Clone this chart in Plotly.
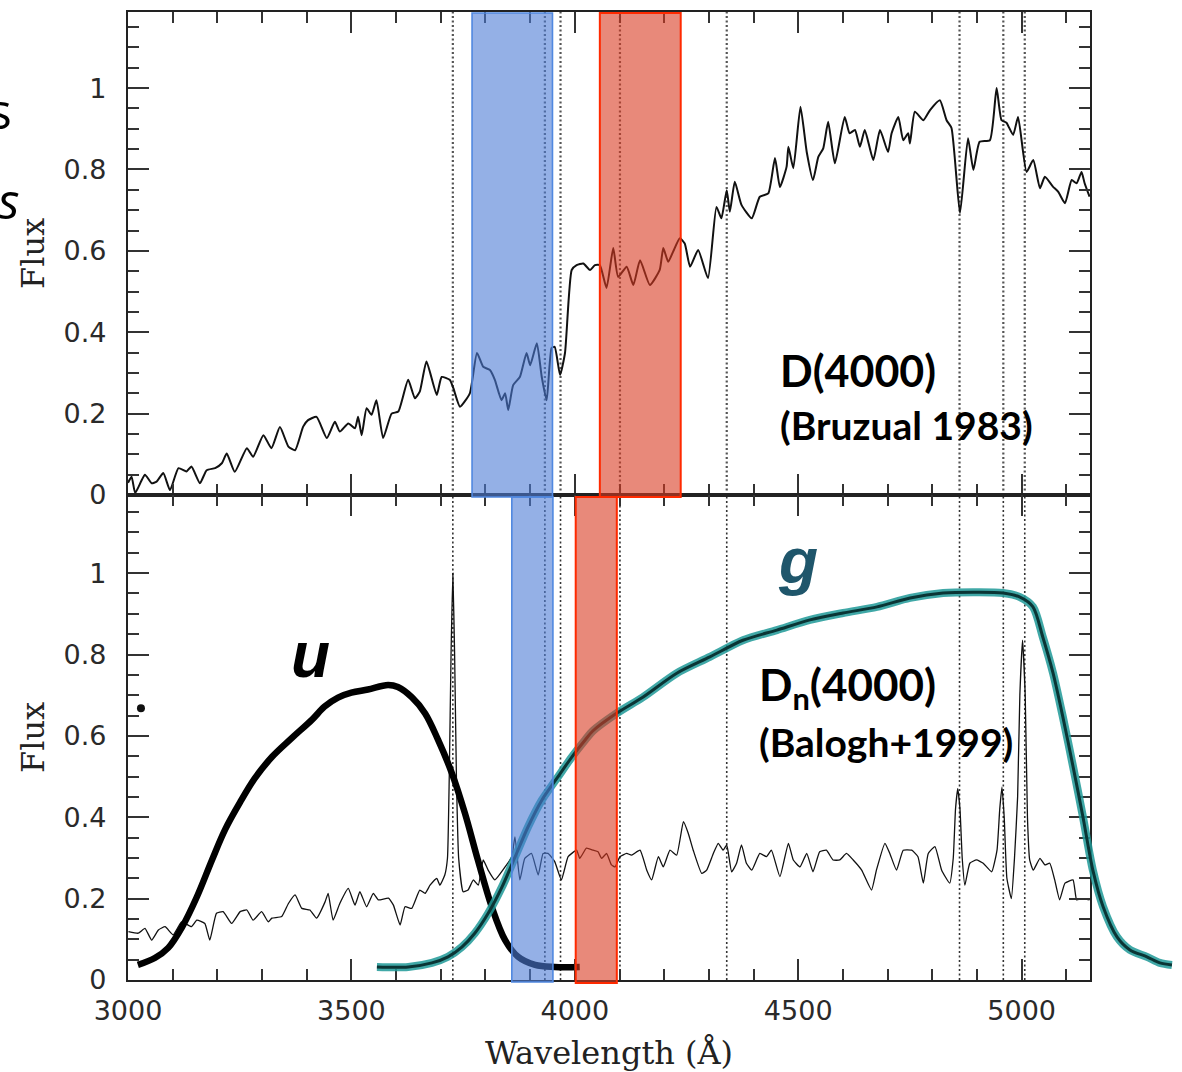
import plotly.graph_objects as go

# ------------------------------------------------------------------ data
# upper panel: evolved (old) galaxy spectrum  (wavelength [A], flux)
top_spectrum = [
    (3000, 0.03), (3008, 0.045), (3016, 0.005), (3030, 0.035), (3038, 0.05), (3053, 0.029),
    (3064, 0.033), (3079, 0.054), (3094, 0.012), (3113, 0.066), (3131, 0.058), (3142, 0.07),
    (3161, 0.029), (3176, 0.061), (3195, 0.066), (3210, 0.078), (3221, 0.102), (3239, 0.057),
    (3266, 0.115), (3280, 0.094), (3303, 0.147), (3321, 0.115), (3340, 0.167), (3359, 0.119),
    (3374, 0.11), (3392, 0.168), (3403, 0.184), (3422, 0.192), (3445, 0.14), (3463, 0.18),
    (3474, 0.156), (3493, 0.176), (3508, 0.164), (3515, 0.192), (3523, 0.147), (3534, 0.213),
    (3545, 0.197), (3556, 0.233), (3571, 0.14), (3590, 0.2), (3605, 0.205), (3627, 0.283),
    (3642, 0.238), (3653, 0.254), (3668, 0.328), (3691, 0.246), (3702, 0.29), (3720, 0.283),
    (3728, 0.263), (3743, 0.217), (3765, 0.25), (3781, 0.349), (3795, 0.315), (3810, 0.307),
    (3821, 0.283), (3836, 0.233), (3844, 0.25), (3851, 0.209), (3862, 0.27), (3877, 0.29),
    (3892, 0.349), (3900, 0.319), (3915, 0.373), (3926, 0.29), (3937, 0.233), (3948, 0.361),
    (3955, 0.364), (3967, 0.295), (3978, 0.349), (3993, 0.553), (4004, 0.565), (4019, 0.569),
    (4034, 0.553), (4045, 0.565), (4056, 0.565), (4071, 0.509), (4086, 0.607), (4097, 0.536),
    (4116, 0.561), (4131, 0.516), (4146, 0.577), (4168, 0.516), (4190, 0.553), (4198, 0.607),
    (4209, 0.573), (4220, 0.598), (4235, 0.631), (4246, 0.618), (4258, 0.561), (4276, 0.602),
    (4298, 0.533), (4317, 0.708), (4328, 0.68), (4340, 0.749), (4347, 0.696), (4358, 0.77),
    (4373, 0.713), (4396, 0.68), (4414, 0.733), (4433, 0.741), (4448, 0.828), (4459, 0.757),
    (4474, 0.807), (4478, 0.856), (4489, 0.803), (4505, 0.954), (4519, 0.843), (4533, 0.774),
    (4545, 0.831), (4556, 0.852), (4567, 0.917), (4582, 0.815), (4604, 0.929), (4615, 0.889),
    (4627, 0.897), (4638, 0.856), (4649, 0.897), (4668, 0.823), (4683, 0.897), (4701, 0.843),
    (4709, 0.889), (4724, 0.929), (4735, 0.872), (4746, 0.889), (4750, 0.864), (4761, 0.942),
    (4780, 0.921), (4795, 0.946), (4817, 0.97), (4832, 0.921), (4843, 0.902), (4862, 0.693),
    (4880, 0.877), (4892, 0.799), (4906, 0.868), (4929, 0.872), (4944, 1.0), (4955, 0.921),
    (4966, 0.915), (4981, 0.885), (4992, 0.929), (5011, 0.794), (5026, 0.823), (5041, 0.754),
    (5052, 0.782), (5070, 0.758), (5082, 0.745), (5097, 0.717), (5112, 0.774), (5123, 0.766),
    (5134, 0.794), (5141, 0.766), (5152, 0.733),
]

# lower panel: star-forming galaxy spectrum with emission lines
bottom_spectrum = [
    (3001, 0.119), (3023, 0.115), (3038, 0.127), (3053, 0.098), (3068, 0.123), (3083, 0.131),
    (3101, 0.111), (3120, 0.143), (3142, 0.131), (3154, 0.147), (3172, 0.139), (3183, 0.098),
    (3198, 0.164), (3213, 0.168), (3232, 0.139), (3251, 0.168), (3266, 0.172), (3280, 0.147),
    (3299, 0.168), (3314, 0.143), (3322, 0.152), (3344, 0.156), (3359, 0.188), (3374, 0.209),
    (3389, 0.176), (3407, 0.172), (3422, 0.152), (3441, 0.192), (3448, 0.213), (3459, 0.147),
    (3474, 0.188), (3493, 0.225), (3508, 0.184), (3519, 0.217), (3534, 0.18), (3549, 0.213),
    (3560, 0.197), (3583, 0.201), (3594, 0.184), (3609, 0.135), (3620, 0.18), (3635, 0.176),
    (3653, 0.221), (3665, 0.213), (3676, 0.233), (3691, 0.25), (3698, 0.233), (3709, 0.258),
    (3715, 0.3), (3719, 0.5), (3723, 0.8), (3727, 1.0), (3731, 0.8), (3735, 0.5), (3740, 0.3),
    (3750, 0.217), (3761, 0.221), (3773, 0.246), (3784, 0.233), (3795, 0.295), (3806, 0.27),
    (3821, 0.246), (3844, 0.278), (3859, 0.303), (3866, 0.352), (3877, 0.246), (3888, 0.299),
    (3903, 0.311), (3918, 0.258), (3929, 0.311), (3940, 0.311), (3955, 0.291), (3970, 0.246),
    (3985, 0.303), (4004, 0.319), (4011, 0.299), (4026, 0.324), (4041, 0.319), (4052, 0.315),
    (4060, 0.299), (4071, 0.311), (4082, 0.283), (4090, 0.278), (4101, 0.303), (4116, 0.311),
    (4127, 0.307), (4146, 0.319), (4161, 0.27), (4172, 0.246), (4187, 0.303), (4198, 0.278),
    (4213, 0.319), (4228, 0.307), (4243, 0.389), (4254, 0.36), (4265, 0.319), (4284, 0.262),
    (4295, 0.27), (4310, 0.311), (4321, 0.336), (4332, 0.319), (4340, 0.332), (4351, 0.266),
    (4362, 0.287), (4373, 0.332), (4384, 0.287), (4396, 0.27), (4414, 0.311), (4429, 0.303),
    (4440, 0.319), (4459, 0.254), (4478, 0.336), (4489, 0.295), (4504, 0.278), (4519, 0.311),
    (4533, 0.266), (4548, 0.315), (4563, 0.319), (4578, 0.295), (4593, 0.295), (4608, 0.311),
    (4623, 0.295), (4642, 0.27), (4664, 0.221), (4675, 0.27), (4694, 0.336), (4705, 0.311),
    (4720, 0.27), (4735, 0.319), (4754, 0.319), (4768, 0.303), (4780, 0.238), (4791, 0.311),
    (4806, 0.328), (4821, 0.27), (4839, 0.238), (4847, 0.3), (4852, 0.42), (4857, 0.47),
    (4862, 0.42), (4867, 0.3), (4873, 0.233), (4884, 0.287), (4899, 0.295), (4914, 0.287),
    (4933, 0.266), (4945, 0.32), (4951, 0.42), (4956, 0.474), (4961, 0.4), (4967, 0.25),
    (4977, 0.2), (4984, 0.3), (4991, 0.45), (4996, 0.7), (5002, 0.835), (5008, 0.7),
    (5013, 0.4), (5018, 0.295), (5026, 0.27), (5041, 0.299), (5052, 0.283), (5063, 0.287),
    (5074, 0.246), (5085, 0.197), (5097, 0.238), (5115, 0.246), (5123, 0.197), (5134, 0.2),
    (5152, 0.197),
]

# SDSS u and g filter transmission curves (scaled)
u_filter = [
    (3022, 0.037), (3060, 0.054), (3090, 0.079), (3121, 0.13), (3154, 0.204), (3188, 0.295),
    (3217, 0.369), (3251, 0.437), (3284, 0.496), (3322, 0.548), (3367, 0.595), (3412, 0.64),
    (3440, 0.672), (3470, 0.694), (3500, 0.706), (3537, 0.714), (3582, 0.725), (3604, 0.72),
    (3635, 0.695), (3665, 0.655), (3694, 0.59), (3725, 0.508), (3754, 0.41), (3783, 0.295),
    (3814, 0.18), (3844, 0.098), (3873, 0.057), (3911, 0.037), (3955, 0.032), (4011, 0.032),
]
g_filter = [
    (3557, 0.032), (3627, 0.032), (3680, 0.042), (3716, 0.057), (3747, 0.081), (3776, 0.115),
    (3806, 0.164), (3837, 0.229), (3866, 0.302), (3895, 0.376), (3926, 0.442), (3962, 0.499),
    (3993, 0.548), (4023, 0.59), (4040, 0.612), (4094, 0.656), (4152, 0.695), (4228, 0.754),
    (4302, 0.794), (4376, 0.835), (4452, 0.86), (4526, 0.885), (4600, 0.902), (4676, 0.917),
    (4750, 0.939), (4824, 0.951), (4900, 0.953), (4958, 0.951), (4996, 0.941), (5025, 0.917),
    (5047, 0.843), (5070, 0.754), (5092, 0.646), (5115, 0.523), (5137, 0.40), (5159, 0.27),
    (5182, 0.18), (5213, 0.106), (5242, 0.074), (5280, 0.057), (5309, 0.042), (5336, 0.037),
]

# spectral lines marked with dotted verticals: [OII], CaK, CaH, Hd, Hg, Hb, [OIII], [OIII]
line_waves = [3727, 3933, 3968, 4101, 4340, 4861, 4959, 5007]

# index bands (as drawn)
bruzual_blue = [3770, 3950]
bruzual_red = [4056, 4237]
balogh_blue = [3859, 3951]
balogh_red = [4002, 4094]

x_ticks = [3000, 3500, 4000, 4500, 5000]
y_ticks = [0, 0.2, 0.4, 0.6, 0.8, 1]
x_range = [3000, 5153]
x_range_ext = [3000, 5358.5]   # same scale, extended to the right page edge
y_range_top = [0, 1.187]
y_range_bot = [0, 1.192]

stray_dot = [(3029, 0.668)]

# ------------------------------------------------------------------ figure
fig = go.Figure()

def xs(pairs):
    return [p[0] for p in pairs]

def ys(pairs):
    return [p[1] for p in pairs]

fig.add_trace(go.Scatter(x=xs(top_spectrum), y=ys(top_spectrum), mode="lines",
                         line=dict(color="#111111", width=2, shape="spline", smoothing=0.5),
                         xaxis="x", yaxis="y", showlegend=False, hoverinfo="skip"))
fig.add_trace(go.Scatter(x=xs(bottom_spectrum), y=ys(bottom_spectrum), mode="lines",
                         line=dict(color="#111111", width=1.3, shape="spline", smoothing=0.4),
                         xaxis="x2", yaxis="y2", showlegend=False, hoverinfo="skip"))
fig.add_trace(go.Scatter(x=xs(u_filter), y=ys(u_filter), mode="lines",
                         line=dict(color="#000000", width=6.5, shape="spline", smoothing=1.0),
                         xaxis="x2", yaxis="y2", showlegend=False, hoverinfo="skip"))
fig.add_trace(go.Scatter(x=xs(stray_dot), y=ys(stray_dot), mode="markers",
                         marker=dict(color="#111111", size=8), xaxis="x2", yaxis="y2",
                         showlegend=False, hoverinfo="skip"))
# g filter drawn on an extended overlay axis so it runs past the frame
fig.add_trace(go.Scatter(x=xs(g_filter), y=ys(g_filter), mode="lines",
                         line=dict(color="#1f9a98", width=8, shape="spline", smoothing=0.8),
                         opacity=0.85, xaxis="x3", yaxis="y2", showlegend=False, hoverinfo="skip"))
fig.add_trace(go.Scatter(x=xs(g_filter), y=ys(g_filter), mode="lines",
                         line=dict(color="#0a3535", width=3, shape="spline", smoothing=0.8),
                         xaxis="x3", yaxis="y2", showlegend=False, hoverinfo="skip"))

shapes = []
for w in line_waves:
    shapes.append(dict(type="line", xref="x", yref="y domain", x0=w, x1=w, y0=0, y1=1,
                       line=dict(color="#555555", width=2.2, dash="2px,2.5px"), layer="below"))
    shapes.append(dict(type="line", xref="x2", yref="y2 domain", x0=w, x1=w, y0=0, y1=1,
                       line=dict(color="#333333", width=1.6, dash="2px,2.5px"), layer="below"))

blue_fill = "rgba(77,123,213,0.6)"
red_fill = "rgba(217,58,33,0.6)"
blue_edge = "#5088e0"
red_edge = "#ff2a00"
shapes.append(dict(type="rect", xref="x", yref="y domain", x0=bruzual_blue[0], x1=bruzual_blue[1],
                   y0=-0.004, y1=0.998, fillcolor=blue_fill, line=dict(color=blue_edge, width=1.6),
                   layer="above"))
shapes.append(dict(type="rect", xref="x", yref="y domain", x0=bruzual_red[0], x1=bruzual_red[1],
                   y0=-0.004, y1=0.998, fillcolor=red_fill, line=dict(color=red_edge, width=2),
                   layer="above"))
shapes.append(dict(type="rect", xref="x2", yref="y2 domain", x0=balogh_blue[0], x1=balogh_blue[1],
                   y0=-0.004, y1=0.996, fillcolor=blue_fill, line=dict(color=blue_edge, width=1.6),
                   layer="above"))
shapes.append(dict(type="rect", xref="x2", yref="y2 domain", x0=balogh_red[0], x1=balogh_red[1],
                   y0=-0.006, y1=0.996, fillcolor=red_fill, line=dict(color=red_edge, width=2),
                   layer="above"))

label_font = dict(family="Lato, 'Open Sans', sans-serif", color="#000000")
annotations = [
    dict(text="<b>D(4000)</b>", x=4455, y=0.307, xref="x", yref="y", xanchor="left",
         yanchor="middle", showarrow=False, font=dict(size=43, **label_font)),
    dict(text="<b>(Bruzual 1983)</b>", x=4455, y=0.172, xref="x", yref="y", xanchor="left",
         yanchor="middle", showarrow=False, font=dict(size=39, **label_font)),
    dict(text="<b>D<sub>n</sub>(4000)</b>", x=4407, y=0.72, xref="x2", yref="y2", xanchor="left",
         yanchor="middle", showarrow=False, font=dict(size=44, **label_font)),
    dict(text="<b>(Balogh+1999)</b>", x=4407, y=0.585, xref="x2", yref="y2", xanchor="left",
         yanchor="middle", showarrow=False, font=dict(size=39, **label_font)),
    dict(text="<b><i>u</i></b>", x=3409, y=0.80, xref="x2", yref="y2", xanchor="center",
         yanchor="middle", showarrow=False,
         font=dict(size=64, family="Liberation Sans, Arial, sans-serif", color="#000000")),
    dict(text="<b><i>g</i></b>", x=4499, y=1.03, xref="x2", yref="y2", xanchor="center",
         yanchor="middle", showarrow=False,
         font=dict(size=64, family="Liberation Sans, Arial, sans-serif", color="#1f566b")),
    # clipped letters at the left page edge
    dict(text="s", x=-0.1214, y=0.899, xref="paper", yref="paper", xanchor="center",
         yanchor="middle", showarrow=False,
         font=dict(size=50, family="'Open Sans', sans-serif", color="#000000")),
    dict(text="<i>s</i>", x=-0.1125, y=0.806, xref="paper", yref="paper", xanchor="center",
         yanchor="middle", showarrow=False,
         font=dict(size=50, family="'Open Sans', sans-serif", color="#000000")),
]

tick_font = dict(family="DejaVu Sans, sans-serif", size=27, color="#2a2a2a")
title_font_y = dict(family="DejaVu Serif, serif", size=32, color="#222222")
title_font_x = dict(family="DejaVu Serif, serif", size=32, color="#222222")

common = dict(showline=True, linecolor="#222222", linewidth=2.2, mirror="ticks",
              ticks="inside", ticklen=21, tickwidth=2, tickcolor="#333333",
              showgrid=False, zeroline=False, tickfont=tick_font)

minor_x = dict(tick0=3000, dtick=100, ticks="inside", ticklen=11, tickwidth=2,
               tickcolor="#333333", showgrid=False)
minor_y = dict(tick0=0, dtick=0.05, ticks="inside", ticklen=11, tickwidth=2,
               tickcolor="#333333", showgrid=False)

x_dom = [0, 962 / 1054]
fig.update_layout(
    width=1182, height=1072,
    margin=dict(l=128, r=0, t=12, b=92),
    paper_bgcolor="white", plot_bgcolor="rgba(0,0,0,0)",
    xaxis=dict(domain=x_dom, range=x_range, anchor="y", tickvals=x_ticks, showticklabels=False,
               minor=minor_x, **common),
    yaxis=dict(domain=[485 / 968, 1], range=y_range_top, anchor="x", tickvals=y_ticks,
               ticktext=[f"{v:g}" for v in y_ticks], ticklabelstandoff=14, minor=minor_y,
               title=dict(text="Flux", font=title_font_y, standoff=9), automargin=False, **common),
    xaxis2=dict(domain=x_dom, range=x_range, anchor="y2", tickvals=x_ticks,
                ticktext=[str(v) for v in x_ticks], ticklabelstandoff=5, minor=minor_x,
                title=dict(text="Wavelength (Å)", font=title_font_x, standoff=19),
                automargin=False, **common),
    yaxis2=dict(domain=[0, 485 / 968], range=y_range_bot, anchor="x2", tickvals=y_ticks,
                ticktext=[f"{v:g}" for v in y_ticks], ticklabelstandoff=14, minor=minor_y,
                title=dict(text="Flux", font=title_font_y, standoff=9), automargin=False, **common),
    xaxis3=dict(domain=[0, 1], range=x_range_ext, anchor="y2", visible=False,
                showgrid=False, zeroline=False),
    shapes=shapes,
    annotations=annotations,
)

fig.write_html("out.html")
